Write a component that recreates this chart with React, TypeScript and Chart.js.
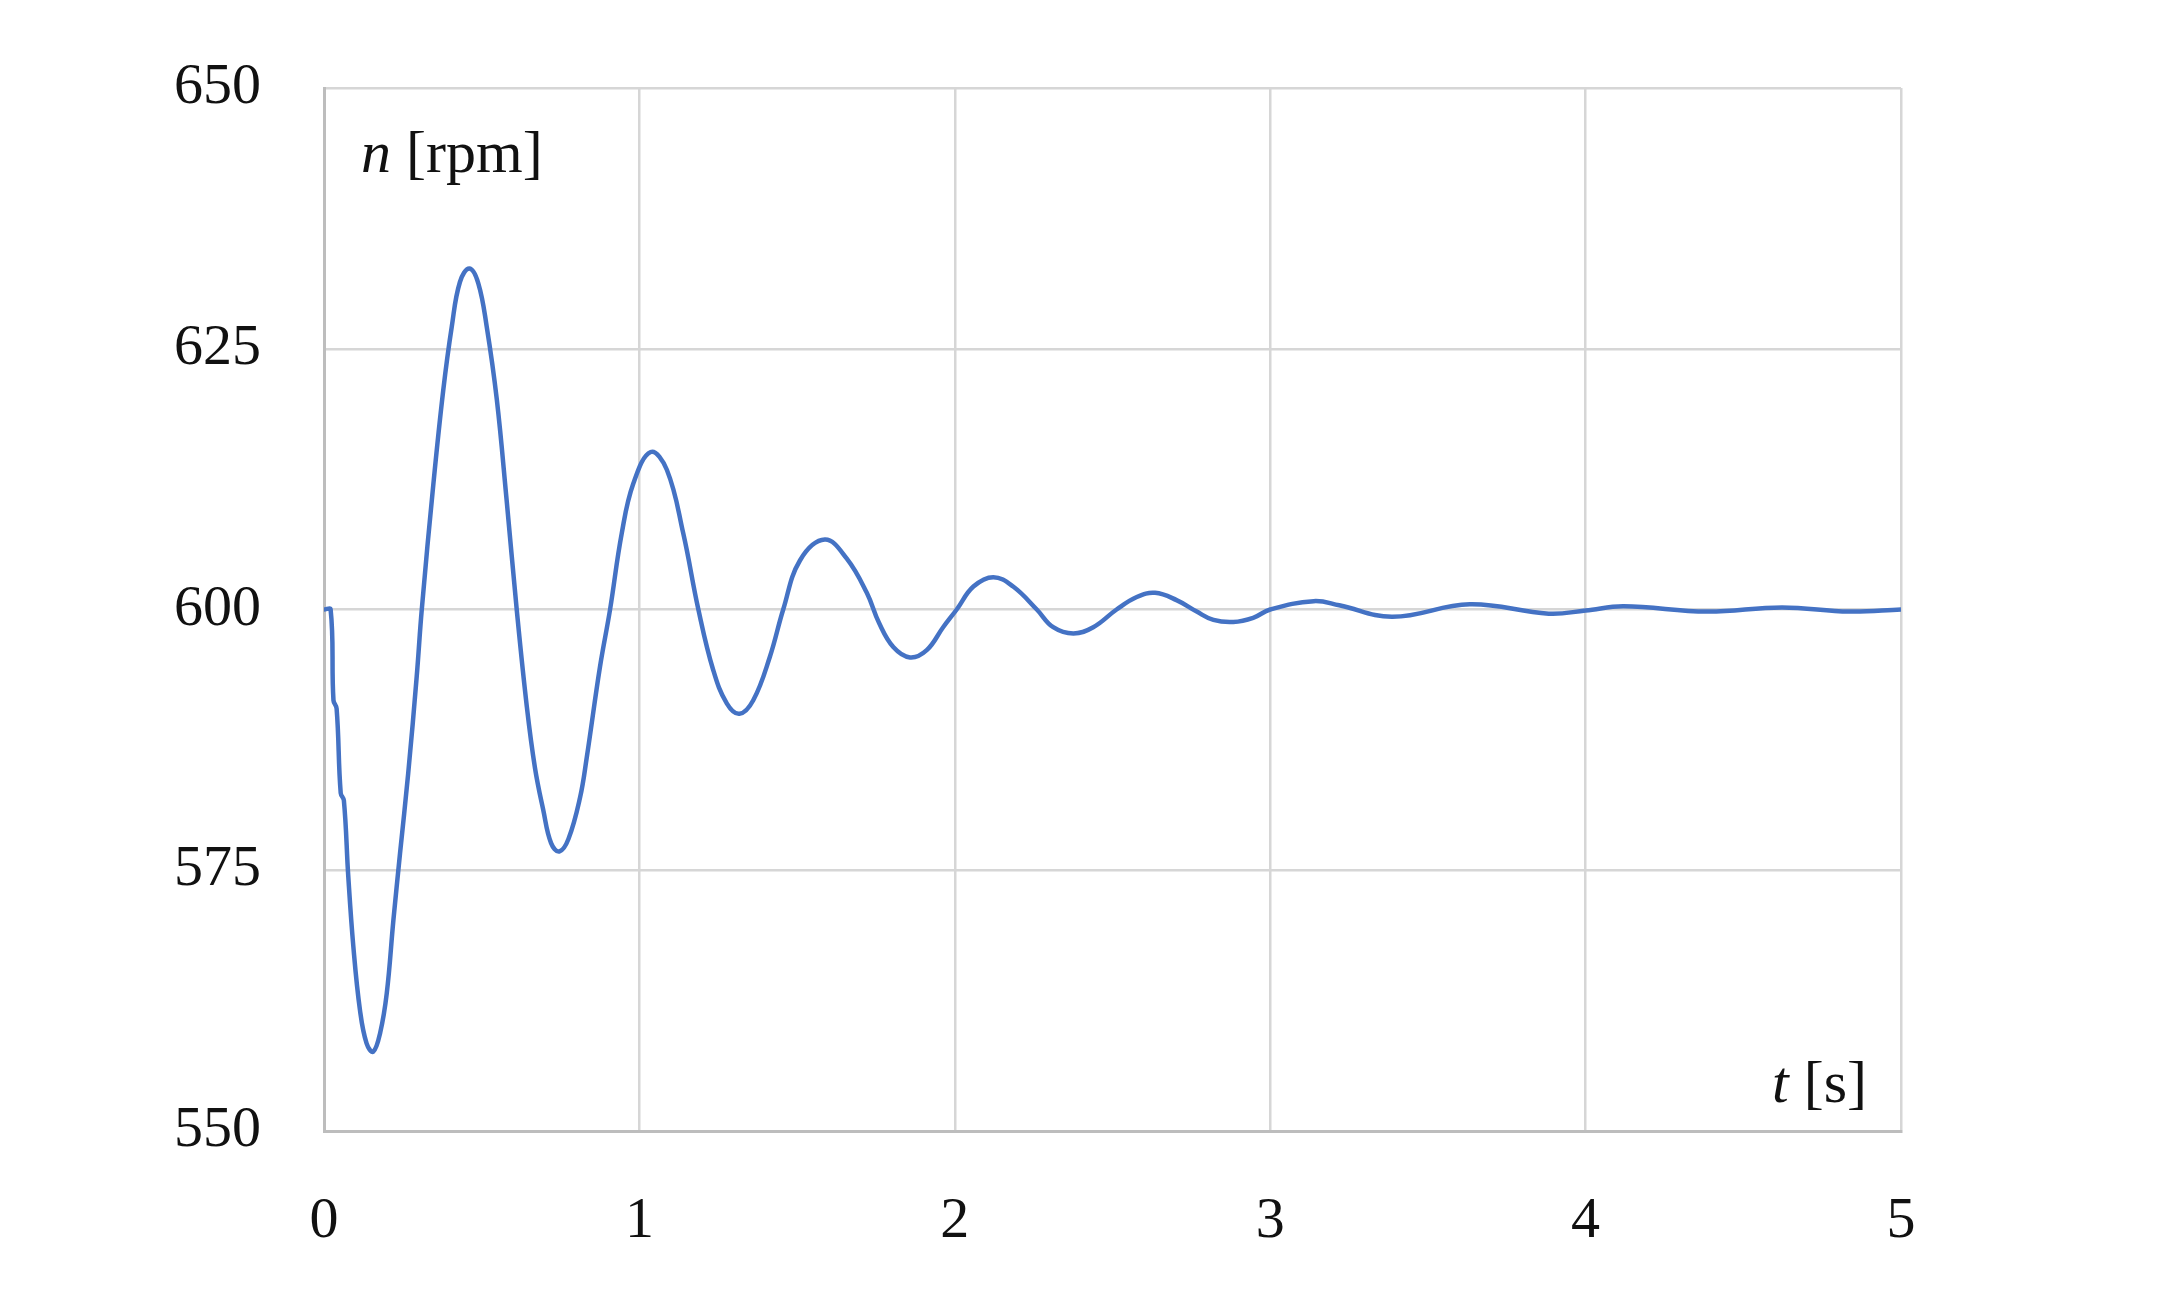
import React, { useEffect, useRef } from "react";
import { Chart, registerables } from "chart.js";

Chart.register(...registerables);

// Time [s]
const timeS: number[] = [
  0, 0.021, 0.030, 0.040, 0.053, 0.063, 0.077, 0.093, 0.114, 0.135, 0.156, 0.178,
  0.199, 0.220, 0.241, 0.267, 0.294, 0.310, 0.347, 0.378, 0.405, 0.431, 0.461,
  0.489, 0.516, 0.548, 0.579, 0.611, 0.643, 0.669, 0.695, 0.720, 0.746, 0.775,
  0.812, 0.833, 0.875, 0.907, 0.944, 0.981, 1.036, 1.087, 1.139, 1.187, 1.234,
  1.277, 1.317, 1.361, 1.414, 1.456, 1.509, 1.588, 1.657, 1.721, 1.760, 1.805,
  1.858, 1.911, 1.963, 2.006, 2.059, 2.122, 2.185, 2.260, 2.312, 2.376, 2.439,
  2.513, 2.577, 2.635, 2.703, 2.767, 2.820, 2.883, 2.946, 3.0, 3.138, 3.219,
  3.388, 3.633, 3.883, 4.0, 4.121, 4.385, 4.623, 4.836, 5.0,
];

// Rotational speed n [rpm]
const speedRpm: number[] = [
  600, 600, 591.3, 590.5, 582.4, 581.7, 574.4, 567.7, 561.6, 558.4, 557.6, 559.4,
  563.2, 570.2, 576.6, 584.3, 593.6, 600, 612.1, 621.0, 627.1, 631.4, 632.7,
  631.3, 627.1, 620.1, 610.5, 600, 590.7, 584.8, 580.8, 577.6, 576.8, 578.0,
  582.0, 585.8, 594.5, 600, 607.3, 612.1, 615.1, 613.4, 607.3, 600, 594.2,
  591.0, 590.0, 591.3, 595.5, 600, 604.7, 606.7, 604.9, 601.6, 598.7, 596.4,
  595.4, 596.1, 598.3, 600, 602.2, 603.1, 602.2, 600, 598.3, 597.7, 598.3,
  600, 601.2, 601.6, 600.9, 599.8, 599.0, 598.8, 599.2, 600, 600.8, 600.4,
  599.3, 600.5, 599.6, 599.9, 600.3, 599.8, 600.2, 599.8, 600,
];

const xTicks: number[] = [0, 1, 2, 3, 4, 5];
const yTicks: number[] = [550, 575, 600, 625, 650];

const yLabelSymbol = "n";
const yLabelUnit = " [rpm]";
const xLabelSymbol = "t";
const xLabelUnit = " [s]";

const FONT = "'Liberation Serif', 'Times New Roman', serif";

function drawMixed(
  ctx: CanvasRenderingContext2D,
  italicPart: string,
  rest: string,
  x: number,
  y: number,
  align: "left" | "right",
  size: number
) {
  ctx.save();
  ctx.fillStyle = "#111";
  ctx.textBaseline = "alphabetic";
  ctx.textAlign = "left";
  ctx.font = `italic ${size}px ${FONT}`;
  const w1 = ctx.measureText(italicPart).width;
  ctx.font = `${size}px ${FONT}`;
  const w2 = ctx.measureText(rest).width;
  const startX = align === "left" ? x : x - (w1 + w2);
  ctx.font = `italic ${size}px ${FONT}`;
  ctx.fillText(italicPart, startX, y);
  ctx.font = `${size}px ${FONT}`;
  ctx.fillText(rest, startX + w1, y);
  ctx.restore();
}

const labelPlugin = {
  id: "innerAxisLabels",
  afterDraw(chart: any) {
    const { ctx, chartArea } = chart;
    drawMixed(ctx, yLabelSymbol, yLabelUnit, chartArea.left + 37, chartArea.top + 84, "left", 60);
    drawMixed(ctx, xLabelSymbol, xLabelUnit, chartArea.right - 34, chartArea.bottom - 29, "right", 60);
  },
};

export default function App() {
  const canvasRef = useRef<HTMLCanvasElement | null>(null);

  useEffect(() => {
    if (!canvasRef.current) return;
    const data = timeS.map((t, i) => ({ x: t, y: speedRpm[i] }));
    const chart = new Chart(canvasRef.current, {
      type: "line",
      data: {
        datasets: [
          {
            data,
            borderColor: "#4472C4",
            borderWidth: 4.5,
            pointRadius: 0,
            fill: false,
            tension: 0.4,
          },
        ],
      },
      plugins: [labelPlugin],
      options: {
        animation: false,
        responsive: true,
        maintainAspectRatio: false,
        layout: { padding: { left: 0, right: 279, top: 88, bottom: 0 } },
        plugins: { legend: { display: false }, tooltip: { enabled: false } },
        scales: {
          x: {
            type: "linear",
            min: 0,
            max: 5,
            afterBuildTicks: (scale: any) => {
              scale.ticks = xTicks.map((v) => ({ value: v }));
            },
            afterFit: (scale: any) => {
              scale.height = 177;
            },
            ticks: {
              color: "#111",
              font: { family: FONT, size: 58 },
              padding: 56,
              maxRotation: 0,
            },
            grid: { color: "#d6d6d6", lineWidth: 2.5, drawTicks: false },
            border: { display: true, color: "#bdbdbd", width: 3 },
          },
          y: {
            type: "linear",
            min: 550,
            max: 650,
            afterBuildTicks: (scale: any) => {
              scale.ticks = yTicks.map((v) => ({ value: v }));
            },
            afterFit: (scale: any) => {
              scale.width = 324;
              scale.paddingTop = 0;
              scale.paddingBottom = 0;
            },
            ticks: {
              color: "#111",
              font: { family: FONT, size: 58 },
              padding: 63,
            },
            grid: { color: "#d6d6d6", lineWidth: 2.5, drawTicks: false },
            border: { display: true, color: "#bdbdbd", width: 3 },
          },
        },
      },
    });
    return () => chart.destroy();
  }, []);

  return (
    <div
      style={{
        position: "fixed",
        left: 0,
        top: 0,
        width: 2180,
        height: 1308,
        background: "#ffffff",
      }}
    >
      <canvas ref={canvasRef} />
    </div>
  );
}
